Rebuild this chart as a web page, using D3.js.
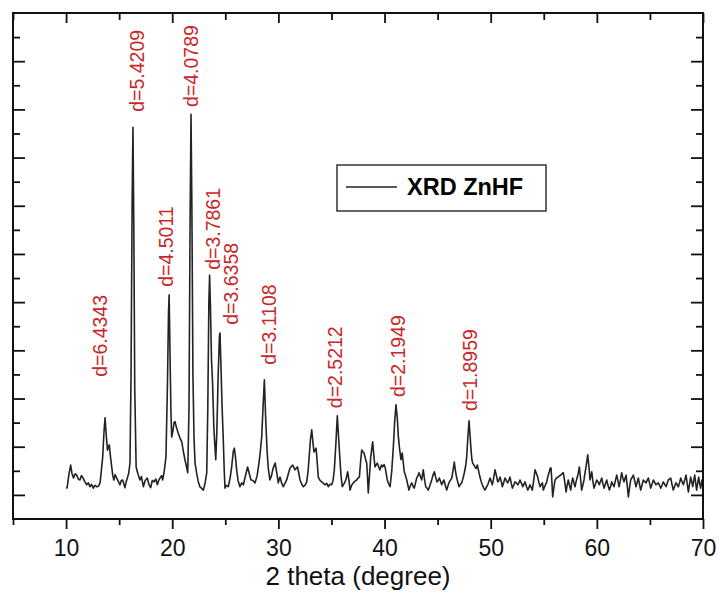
<!DOCTYPE html>
<html>
<head>
<meta charset="utf-8">
<script src="https://cdnjs.cloudflare.com/ajax/libs/d3/7.8.5/d3.min.js"></script>
<style>
  body { margin: 0; background: #fff; }
  text { font-family: "Liberation Sans", Arial, sans-serif; }
</style>
</head>
<body>
<div id="chart"></div>
<script>
// XRD pattern: [2 theta, intensity]
var pattern = [
  [10.0,14],[10.1,15],[10.25,40],[10.43,62],[10.55,45],[10.7,35],[10.85,44],[11.0,41],[11.15,33],[11.3,31],
  [11.45,40],[11.6,35],[11.75,28],[11.94,21],[12.1,25],[12.25,17],[12.4,22],[12.57,14],[12.72,20],[12.88,17],
  [13.05,18],[13.2,25],[13.32,50],[13.45,79],[13.57,130],[13.67,160],[13.78,125],[13.9,93],[14.07,104],[14.18,80],
  [14.3,58],[14.4,40],[14.5,31],[14.62,42],[14.77,35],[14.92,28],[15.08,21],[15.2,30],[15.33,31],[15.45,22],
  [15.55,15],[15.67,28],[15.77,35],[15.9,45],[16.02,66],[16.12,250],[16.22,600],[16.3,763],[16.38,560],[16.47,220],
  [16.6,58],[16.75,45],[16.96,31],[17.1,38],[17.28,17],[17.45,30],[17.65,35],[17.8,22],[17.97,15],[18.12,30],
  [18.28,27],[18.45,33],[18.6,21],[18.72,30],[18.85,35],[19.0,40],[19.1,31],[19.25,50],[19.41,79],[19.55,230],
  [19.65,380],[19.71,415],[19.8,280],[19.88,170],[19.95,120],[20.08,135],[20.17,150],[20.26,152],[20.4,140],[20.57,128],
  [20.73,118],[20.9,110],[21.05,90],[21.2,73],[21.35,58],[21.46,46],[21.58,180],[21.68,560],[21.77,790],[21.85,600],
  [21.95,250],[22.05,120],[22.15,66],[22.3,45],[22.45,28],[22.6,17],[22.75,14],[22.93,10],[23.1,25],[23.25,46],
  [23.35,180],[23.45,400],[23.52,456],[23.6,390],[23.7,280],[23.8,232],[23.92,140],[24.05,90],[24.1,73],[24.2,130],
  [24.33,250],[24.45,330],[24.5,336],[24.6,260],[24.7,180],[24.8,121],[24.9,50],[24.97,14],[25.1,20],[25.28,17],
  [25.45,35],[25.6,58],[25.75,90],[25.85,97],[25.95,80],[26.07,52],[26.2,30],[26.38,17],[26.55,25],[26.7,21],
  [26.9,40],[27.1,58],[27.25,45],[27.42,31],[27.6,30],[27.8,25],[28.0,40],[28.17,66],[28.3,90],[28.43,121],
  [28.55,180],[28.68,239],[28.8,160],[28.93,93],[29.05,55],[29.2,31],[29.35,40],[29.5,55],[29.7,66],[29.85,45],
  [29.99,25],[30.15,37],[30.3,25],[30.46,17],[30.62,24],[30.78,31],[30.95,45],[31.1,56],[31.35,62],[31.57,52],
  [31.8,58],[31.92,45],[32.04,31],[32.2,22],[32.35,17],[32.5,20],[32.67,27],[32.8,50],[32.9,79],[33.02,115],
  [33.14,135],[33.25,110],[33.35,89],[33.55,97],[33.65,70],[33.76,37],[33.92,30],[34.08,27],[34.25,24],[34.4,21],
  [34.55,24],[34.7,17],[34.85,22],[35.02,21],[35.15,30],[35.27,52],[35.4,100],[35.55,164],[35.67,120],[35.8,73],
  [35.9,40],[36.02,17],[36.15,22],[36.28,27],[36.4,35],[36.53,48],[36.65,30],[36.75,10],[36.9,20],[37.06,25],
  [37.2,28],[37.38,31],[37.5,35],[37.63,37],[37.75,70],[37.85,93],[37.95,90],[38.07,87],[38.2,75],[38.32,66],
  [38.4,35],[38.47,4],[38.58,40],[38.7,79],[38.88,110],[39.0,80],[39.1,58],[39.2,62],[39.32,66],[39.45,58],
  [39.57,52],[39.7,62],[39.83,58],[39.95,63],[40.07,56],[40.15,45],[40.26,31],[40.4,22],[40.52,17],[40.68,50],
  [40.83,100],[40.95,150],[41.08,187],[41.2,160],[41.3,121],[41.42,95],[41.55,73],[41.67,87],[41.75,70],[41.86,48],
  [41.98,40],[42.09,31],[42.2,20],[42.3,10],[42.45,20],[42.56,25],[42.68,18],[42.8,14],[42.92,25],[43.03,35],
  [43.15,40],[43.25,46],[43.38,38],[43.5,31],[43.65,52],[43.75,35],[43.88,17],[44.0,14],[44.12,10],[44.28,20],
  [44.44,31],[44.55,40],[44.69,48],[44.8,38],[44.94,27],[45.05,30],[45.16,35],[45.28,28],[45.39,21],[45.5,27],
  [45.6,31],[45.72,20],[45.86,10],[45.96,18],[46.07,25],[46.2,30],[46.33,35],[46.45,50],[46.57,68],[46.68,50],
  [46.8,35],[46.92,25],[47.02,17],[47.15,22],[47.27,25],[47.4,35],[47.52,46],[47.64,60],[47.74,79],[47.85,120],
  [47.96,154],[48.05,125],[48.15,93],[48.22,75],[48.3,66],[48.42,62],[48.52,58],[48.63,55],[48.74,62],[48.86,50],
  [48.99,37],[49.1,28],[49.21,21],[49.33,15],[49.46,10],[49.6,16],[49.72,21],[49.83,28],[49.94,35],[50.05,28],
  [50.15,21],[50.28,35],[50.41,52],[50.54,40],[50.66,27],[50.77,30],[50.88,37],[50.99,28],[51.1,17],[51.22,25],
  [51.35,35],[51.47,30],[51.6,25],[51.71,30],[51.82,37],[51.93,25],[52.04,14],[52.17,20],[52.29,27],[52.42,25],
  [52.55,21],[52.65,25],[52.76,31],[52.9,24],[53.02,17],[53.12,22],[53.23,27],[53.36,18],[53.49,10],[53.6,15],
  [53.7,21],[53.82,15],[53.92,10],[54.05,30],[54.18,52],[54.3,45],[54.43,37],[54.55,25],[54.65,17],[54.77,22],
  [54.87,25],[54.96,10],[55.1,18],[55.28,27],[55.4,40],[55.52,48],[55.6,55],[55.68,56],[55.76,30],[55.84,-4],
  [55.95,15],[56.06,31],[56.2,35],[56.37,37],[56.48,40],[56.6,41],[56.72,44],[56.84,46],[56.97,28],[57.1,6],
  [57.2,20],[57.31,31],[57.42,20],[57.54,10],[57.63,25],[57.73,35],[57.84,25],[57.94,17],[58.05,28],[58.16,37],
  [58.25,45],[58.35,58],[58.46,35],[58.57,10],[58.68,20],[58.79,31],[58.88,45],[58.98,58],[59.06,70],[59.14,83],
  [59.25,60],[59.36,31],[59.44,40],[59.52,48],[59.62,30],[59.73,14],[59.86,22],[59.99,31],[60.11,27],[60.23,21],
  [60.34,28],[60.46,35],[60.57,24],[60.68,14],[60.8,22],[60.93,31],[61.05,20],[61.18,10],[61.3,18],[61.4,27],
  [61.51,22],[61.62,17],[61.75,30],[61.87,41],[61.98,30],[62.09,17],[62.22,30],[62.34,46],[62.45,35],[62.56,27],
  [62.65,34],[62.75,41],[62.86,20],[62.97,-4],[63.08,15],[63.19,31],[63.31,36],[63.44,41],[63.56,30],[63.69,17],
  [63.8,26],[63.91,35],[64.02,22],[64.13,10],[64.25,20],[64.38,31],[64.5,28],[64.63,25],[64.74,30],[64.85,35],
  [64.96,25],[65.07,14],[65.2,22],[65.32,31],[65.45,26],[65.57,21],[65.68,23],[65.79,25],[65.9,20],[66.02,14],
  [66.14,20],[66.26,27],[66.39,22],[66.52,17],[66.62,24],[66.73,31],[66.85,33],[66.96,35],[67.08,22],[67.2,10],
  [67.33,18],[67.46,25],[67.57,21],[67.68,17],[67.8,26],[67.9,35],[68.02,28],[68.15,21],[68.28,31],[68.4,41],
  [68.51,24],[68.62,6],[68.73,22],[68.84,37],[68.94,27],[69.03,17],[69.12,29],[69.22,41],[69.31,25],[69.4,10],
  [69.5,24],[69.59,37],[69.68,25],[69.78,14],[69.84,22],[69.9,31],[70.0,20]
];

// d-spacing labels over the peaks, with where each label starts (2 theta, intensity)
var peakLabels = ["d=6.4343", "d=5.4209", "d=4.5011", "d=4.0789", "d=3.7861", "d=3.6358", "d=3.1108", "d=2.5212", "d=2.1949", "d=1.8959"];
var labelTheta = [13.86, 17.34, 20.07, 22.42, 24.5, 26.2, 29.78, 35.99, 41.93, 48.71];
var labelIntensity = [245, 795, 432, 805, 467, 353, 270, 180, 203, 174];

var xMajor = [10, 20, 30, 40, 50, 60, 70];
var xMinor = [5, 15, 25, 35, 45, 55, 65];
var yMajor = [0, 100, 200, 300, 400, 500, 600, 700, 800, 900];
var yMinor = [50, 150, 250, 350, 450, 550, 650, 750, 850, 950];
var seriesName = "XRD ZnHF";
var xTitle = "2 theta (degree)";

var svgWidth = 720;
var svgHeight = 593;
var margin = { top: 13, right: 17, bottom: 74, left: 13 };
var width = svgWidth - margin.left - margin.right;
var height = svgHeight - margin.top - margin.bottom;

var svg = d3.select("#chart")
  .append("svg")
  .attr("width", svgWidth)
  .attr("height", svgHeight);

var chartGroup = svg.append("g")
  .attr("transform", `translate(${margin.left}, ${margin.top})`);

var xScale = d3.scaleLinear().domain([5, 70]).range([0, width]);
var yScale = d3.scaleLinear().domain([-50, 1000]).range([height, 0]);

// axes: bottom ticks point out, the other three point in
function addAxis(axis, values, size, transform, labels) {
  var g = chartGroup.append("g")
    .attr("transform", transform)
    .call(axis.tickValues(values).tickSize(size).tickPadding(11)
      .tickFormat(labels ? d3.format("d") : ""));
  g.select(".domain").remove();
  g.selectAll("line").attr("stroke", "#111").attr("stroke-width", 1.8);
  g.selectAll("text").attr("font-size", "23px").attr("fill", "#111")
    .style("font-family", "'Liberation Sans', Arial, sans-serif");
  return g;
}

addAxis(d3.axisBottom(xScale), xMajor, 10, `translate(0, ${height})`, true);
addAxis(d3.axisBottom(xScale), xMinor, 6, `translate(0, ${height})`, false);
addAxis(d3.axisBottom(xScale), xMajor, 10, "translate(0, 0)", false);
addAxis(d3.axisBottom(xScale), xMinor, 7, "translate(0, 0)", false);
addAxis(d3.axisRight(yScale), yMajor, 12, "translate(0, 0)", false);
addAxis(d3.axisRight(yScale), yMinor, 7, "translate(0, 0)", false);
addAxis(d3.axisLeft(yScale), yMajor, 12, `translate(${width}, 0)`, false);
addAxis(d3.axisLeft(yScale), yMinor, 7, `translate(${width}, 0)`, false);

// pattern line
var line = d3.line()
  .x(d => xScale(d[0]))
  .y(d => yScale(d[1]));

chartGroup.append("path")
  .datum(pattern)
  .attr("d", line)
  .attr("fill", "none")
  .attr("stroke", "#222")
  .attr("stroke-width", 1.6)
  .attr("stroke-linejoin", "round");

// frame
chartGroup.append("rect")
  .attr("width", width)
  .attr("height", height)
  .attr("fill", "none")
  .attr("stroke", "#111")
  .attr("stroke-width", 2);

// red d-spacing labels
chartGroup.selectAll(".dLabel")
  .data(peakLabels)
  .enter()
  .append("text")
  .attr("class", "dLabel")
  .attr("transform", (d, i) => `translate(${xScale(labelTheta[i])}, ${yScale(labelIntensity[i])}) rotate(-90)`)
  .attr("font-size", "19.5px")
  .attr("fill", "#c8282a")
  .text(d => d);

// legend
var legend = chartGroup.append("g");
legend.append("rect")
  .attr("x", 324).attr("y", 152)
  .attr("width", 209).attr("height", 46)
  .attr("fill", "#fff")
  .attr("stroke", "#333")
  .attr("stroke-width", 1.5);
legend.append("line")
  .attr("x1", 333).attr("x2", 384)
  .attr("y1", 174).attr("y2", 174)
  .attr("stroke", "#222")
  .attr("stroke-width", 1.4);
legend.append("text")
  .attr("x", 394).attr("y", 182)
  .attr("font-size", "23.5px")
  .attr("font-weight", "bold")
  .attr("fill", "#000")
  .text(seriesName);

// x axis title
chartGroup.append("text")
  .attr("x", width / 2)
  .attr("y", height + 66)
  .attr("text-anchor", "middle")
  .attr("font-size", "26px")
  .attr("fill", "#111")
  .text(xTitle);
</script>
</body>
</html>
